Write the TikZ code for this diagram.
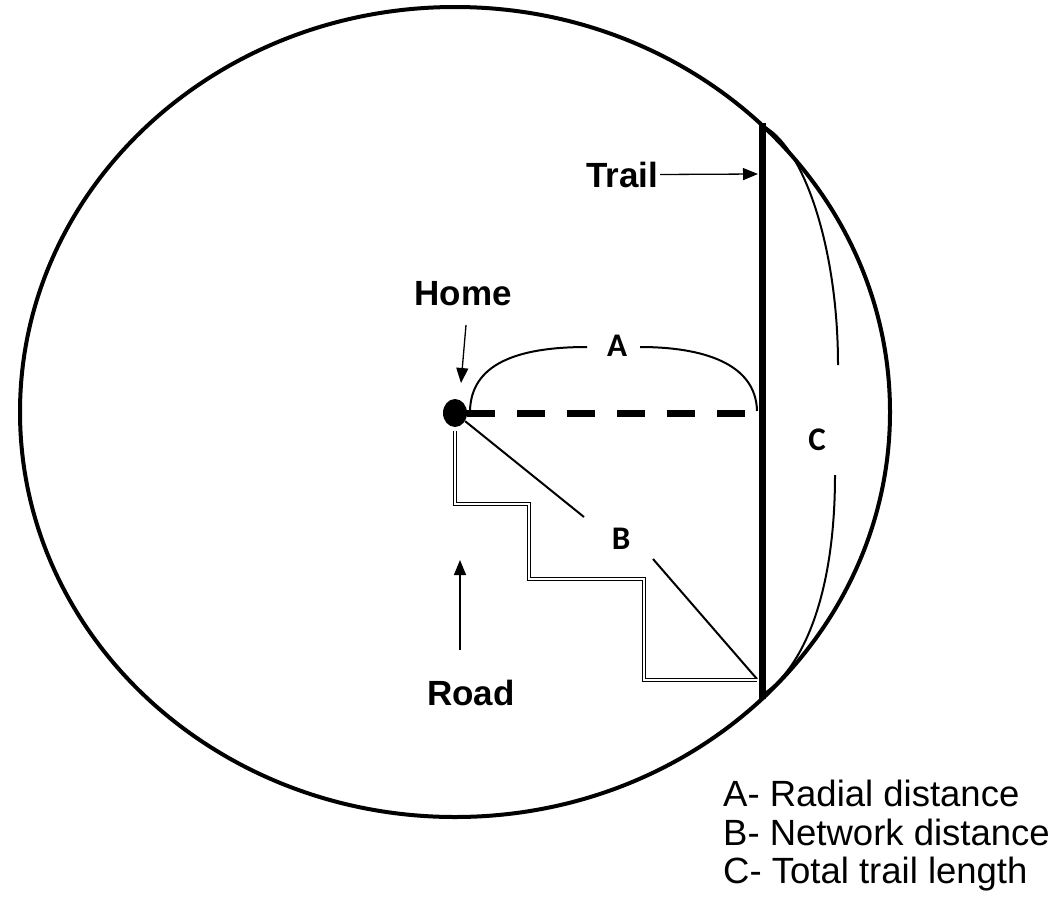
\documentclass[tikz,border=0pt]{standalone}
\usepackage{fontspec}
\setmainfont{Liberation Sans}
\newfontfamily\letterfont{Carlito}
\usetikzlibrary{arrows.meta,shapes.geometric}
\begin{document}
\begin{tikzpicture}[x=1pt,y=-1pt,
  lbl/.style={font=\fontsize{35}{40}\selectfont\bfseries, inner sep=0pt, anchor=base},
  letter/.style={font=\letterfont\fontsize{33}{36}\selectfont\bfseries, inner sep=0pt, anchor=base},
  legend/.style={font=\fontsize{36.5}{40}\selectfont, inner sep=0pt, anchor=base west},
  pointer/.style={line width=1.3pt, -{Triangle[length=15pt,width=12pt]}},
  bracket/.style={line width=2pt},
  road/.style={double, line width=1.2pt, double distance=2.4pt},
  trailline/.style={line width=7pt},
  radial/.style={line width=7pt, dash pattern=on 28pt off 22pt},
]
\useasboundingbox (0,0) rectangle (1064,897);
% boundary
\draw[line width=4pt] (455,412) ellipse [x radius=435pt, y radius=405pt];
% trail
\coordinate (ttop) at (762,123);
\coordinate (tbot) at (762,699);
\draw[trailline] (ttop) -- (tbot);
% home
\node[ellipse, fill=black, minimum width=24pt, minimum height=28pt, inner sep=0pt] (home) at (455,413) {};
% radial distance
\coordinate (aend) at (748,413);
\draw[radial] (home.east) -- (aend);
% A bracket
\coordinate (a0) at (470,411);
\coordinate (a1) at (587,347);
\coordinate (a2) at (640,347);
\coordinate (a3) at (757,411);
\draw[bracket] (a0) .. controls (471,365) and (515,347) .. (a1);
\draw[bracket] (a2) .. controls (702,347) and (756,363) .. (a3);
\node[letter] (A) at (617,356) {A};
% B line
\coordinate (b1) at (584,517);
\coordinate (b2) at (653,559);
\coordinate (b3) at (757,679);
\draw[bracket] (home) -- (b1);
\draw[bracket] (b2) -- (b3);
\node[letter] (B) at (621,549) {B};
% road
\coordinate (r0) at (455,431);
\coordinate (r1) at (455,504);
\coordinate (r2) at (529,504);
\coordinate (r3) at (529,579);
\coordinate (r4) at (644,579);
\coordinate (r5) at (644,680);
\coordinate (r6) at (757,680);
\draw[road] (r0) -- (r1) -- (r2) -- (r3) -- (r4) -- (r5) -- (r6);
% C bracket
\coordinate (c0) at (765,127);
\coordinate (c1) at (838,365);
\coordinate (c2) at (835,475);
\coordinate (c3) at (765,693);
\draw[bracket] (c0) .. controls (805,150) and (838,250) .. (c1);
\draw[bracket] (c2) .. controls (835,585) and (808,662) .. (c3);
\node[letter] (C) at (817,450) {C};
% labels and pointers
\node[lbl] (trailLbl) at (622,187) {Trail};
\coordinate (trailpt) at (758,174);
\draw[pointer] (trailLbl.east) ++(2pt,0) -- (trailpt);
\node[lbl] (homeLbl) at (463,305) {Home};
\coordinate (hp1) at (466,325);
\coordinate (hp2) at (461,383);
\draw[pointer] (hp1) -- (hp2);
\node[lbl] (roadLbl) at (471,705) {Road};
\coordinate (rp1) at (460,650);
\coordinate (rp2) at (460,560);
\draw[pointer] (rp1) -- (rp2);
% legend
\node[legend] (legA) at (723,806) {A- Radial distance};
\node[legend] (legB) at (723,845) {B- Network distance};
\node[legend] (legC) at (723,883) {C- Total trail length};
\end{tikzpicture}
\end{document}
